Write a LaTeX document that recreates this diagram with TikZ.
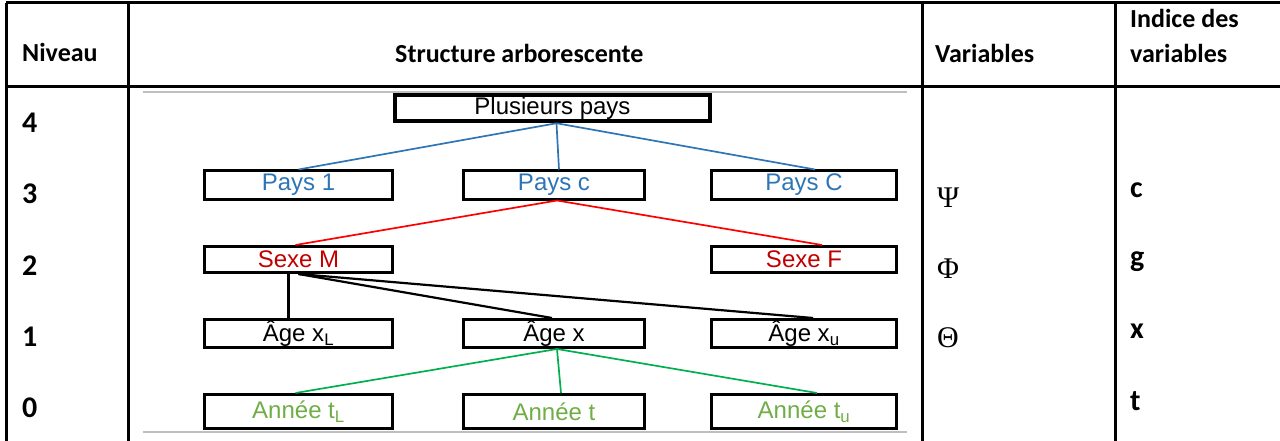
\documentclass[tikz,border=0pt]{standalone}
\usepackage{fontspec}
\setmainfont{Carlito}
\newfontfamily\arialfont{Liberation Sans}
\newfontfamily\timesfont{Liberation Serif}
\definecolor{paysblue}{RGB}{46,117,182}
\definecolor{sexered}{RGB}{192,0,0}
\definecolor{anneegreen}{RGB}{112,173,71}
\definecolor{linered}{RGB}{255,0,0}
\definecolor{linegreen}{RGB}{0,176,80}

\begin{document}
\begin{tikzpicture}[x=1pt,y=-1pt,
  cell/.style={line width=3pt,black},
  head/.style={anchor=base west,inner sep=0pt,font=\fontsize{26}{30}\selectfont\bfseries},
  idx/.style={anchor=base west,inner sep=0pt,font=\fontsize{30}{34}\selectfont\bfseries},
  greek/.style={anchor=base west,inner sep=0pt,font=\fontsize{30}{34}\selectfont\timesfont},
  box/.style={draw,line width=3pt,minimum width=188pt,minimum height=28pt,inner sep=0pt,
    font=\fontsize{24}{28}\selectfont\arialfont},
  link/.style={line width=1.7pt}]

\useasboundingbox (0,0) rectangle (1280,441);

% table grid:
\draw[cell] (6,3) -- (1280,3);
\draw[cell] (6,87) -- (1280,87);
\draw[cell] (6,3) -- (6,441);
\draw[cell] (128,3) -- (128,441);
\draw[cell] (922,3) -- (922,441);
\draw[cell] (1115,3) -- (1115,441);
\draw[gray!50,line width=1.2pt] (143,92) -- (907,92);
\draw[gray!50,line width=1.2pt] (143,432) -- (907,432);

% header row:
\node[head] (hniv) at (22,62) {Niveau};
\node[head] (hstr) at (395,63) {Structure arborescente};
\node[head] (hvar) at (935,63) {Variables};
\node[head] (hind) at (1130,28) {Indice des};
\node[head] (hvbl) at (1130,63) {variables};

% levels:
\node[idx] (n4) at (22,133) {4};
\node[idx] (n3) at (22,203) {3};
\node[idx] (n2) at (22,275) {2};
\node[idx] (n1) at (22,346) {1};
\node[idx] (n0) at (22,417) {0};

% variables and indices:
\node[greek] (vpsi) at (937,207) {Ψ};
\node[greek] (vphi) at (937,278) {Φ};
\node[greek] (vtheta) at (937,347) {Θ};
\node[idx] (ic) at (1130,197) {c};
\node[idx] (ig) at (1130,266) {g};
\node[idx] (ix) at (1130,338) {x};
\node[idx] (it) at (1130,410) {t};

% tree:
\node[box,line width=4.5pt,minimum width=315pt,minimum height=26pt] (plus) at (552.5,108) {Plusieurs pays};
\node[box,text=paysblue] (pays1) at (298.5,185) {Pays 1};
\node[box,text=paysblue,minimum width=181pt] (paysc) at (554,185) {Pays c};
\node[box,text=paysblue,minimum width=185pt] (paysC) at (804,185) {Pays C};
\node[box,text=sexered,minimum height=26pt] (sexeM) at (298.5,259.5) {Sexe M};
\node[box,text=sexered,minimum width=185pt,minimum height=26pt] (sexeF) at (804,259.5) {Sexe F};
\node[box] (ageL) at (298.5,333.5) {Âge x\textsubscript{L}};
\node[box,minimum width=181pt] (agex) at (554,333.5) {Âge x};
\node[box,minimum width=185pt] (ageU) at (804,333.5) {Âge x\textsubscript{u}};
\node[box,text=anneegreen,minimum height=34pt] (anL) at (298.5,411.5) {Année t\textsubscript{L}};
\node[box,text=anneegreen,minimum width=181pt,minimum height=34pt] (ant) at (554,411.5) {Année t};
\node[box,text=anneegreen,minimum width=185pt,minimum height=34pt] (anU) at (804,411.5) {Année t\textsubscript{u}};

\draw[link,paysblue] ([xshift=4]plus.south) -- (pays1.north);
\draw[link,paysblue] ([xshift=4]plus.south) -- ([xshift=5]paysc.north);
\draw[link,paysblue] ([xshift=4]plus.south) -- ([xshift=11]paysC.north);
\draw[link,linered] ([xshift=3]paysc.south) -- ([xshift=-3]sexeM.north);
\draw[link,linered] ([xshift=3]paysc.south) -- ([xshift=18]sexeF.north);
\draw[link,black,line width=2.2pt] ([xshift=-10]sexeM.south) -- ([xshift=-10]ageL.north);
\draw[link,black,line width=2.2pt] (sexeM.south) -- ([xshift=-2]agex.north);
\draw[link,black,line width=2.2pt] (sexeM.south) -- ([xshift=9]ageU.north);
\draw[link,linegreen] ([xshift=3]agex.south) -- ([xshift=-3]anL.north);
\draw[link,linegreen] ([xshift=3]agex.south) -- ([xshift=7]ant.north);
\draw[link,linegreen] ([xshift=3]agex.south) -- ([xshift=13]anU.north);

\end{tikzpicture}
\end{document}
